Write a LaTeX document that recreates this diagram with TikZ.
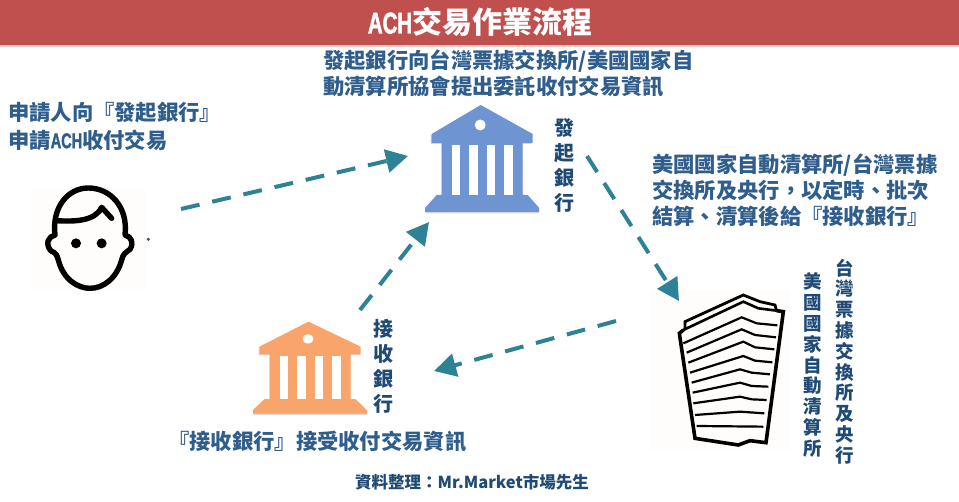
\documentclass[tikz,border=0pt]{standalone}
\usepackage{fontspec}
\usetikzlibrary{arrows.meta}
\setmainfont{Noto Sans CJK TC}
\newfontfamily\narrowlat[FakeStretch=0.68,FakeBold=1.5]{Liberation Sans}
\newcommand{\nl}[1]{{\narrowlat #1}}
\definecolor{barred}{HTML}{C0504D}
\definecolor{txtblue}{HTML}{2F5D8C}
\definecolor{txtdark}{HTML}{1F4A75}
\definecolor{flow}{HTML}{2E8296}
\definecolor{bankblue}{HTML}{6F94D2}
\definecolor{bankorange}{HTML}{F8A46A}
\newcommand{\bank}[1]{%
  \fill[black!35,opacity=.45] (-50,30) -- (0,0.5) -- (51,30) -- (51,39) -- (42,39) -- (42,91) -- (47,91) -- (58.5,104) -- (58.5,108.5) -- (-55,108.5) -- (-55,104) -- (-44,91) -- (-39,91) -- (-39,39) -- (-50,39) -- cycle;
  \fill[#1] (-49,29) -- (0,0) -- (52,29) -- (52,38) -- (42,38) -- (42,90) -- (47,90) -- (58.5,103) -- (58.5,107) -- (-55.7,107) -- (-55.7,103) -- (-44,90) -- (-39,90) -- (-39,38) -- (-49,38) -- cycle;
  \fill[white] (-.5,20) circle (5.5);
  \foreach \xx in {-29,-11.4,6,23.6}{\fill[white] (\xx,40) rectangle +(8.6,50);}
}
\tikzset{
  hd/.style={font=\bfseries\fontsize{21.3}{24}\selectfont,text=txtblue,anchor=west,inner sep=0pt},
  vt/.style={font=\bfseries\fontsize{20}{25}\selectfont,text=txtdark,align=center,inner sep=0pt},
  vs/.style={font=\bfseries\fontsize{18.5}{20.8}\selectfont,text=txtdark,align=center,inner sep=0pt},
  flowline/.style={flow,line width=4pt,dash pattern=on 19pt off 13pt,-{Triangle[length=22pt,width=23pt]}}
}
\begin{document}
\begin{tikzpicture}[x=1pt,y=-1pt]
\useasboundingbox (0,0) rectangle (959,502);
\fill[white] (0,0) rectangle (959,502);
\fill[barred!55,opacity=.5] (0,45) rectangle (959,47);
\fill[barred] (0,0) rectangle (959,45);
\node[font=\bfseries\fontsize{30}{32}\selectfont,text=white,inner sep=0pt] (title) at (480,22) {\nl{ACH}交易作業流程};

% person
\fill[orange!1.5] (30,187) rectangle (147,290);
\begin{scope}[shift={(0,90)},scale=1/3,line width=5.4pt,line cap=round,line join=round]
  \draw (165,435) .. controls (145,440) and (135,460) .. (152,482) .. controls (170,490) and (170,495) .. (175,510) .. controls (190,570) and (235,595) .. (270,595) .. controls (310,595) and (350,565) .. (365,510) .. controls (370,490) and (375,490) .. (390,478) .. controls (402,460) and (395,440) .. (375,435) .. controls (385,350) and (330,294) .. (265,294) .. controls (205,294) and (155,350) .. (165,435);
  \draw (168,392) .. controls (220,395) and (285,395) .. (305,352) -- (335,385);
  \fill (228,460) circle (15);
  \fill (305,460) circle (15);
  \fill[black!70] (445,448) circle (5);
\end{scope}

% banks
\begin{scope}[shift={(480.7,105)}]\bank{bankblue}\end{scope}
\begin{scope}[shift={(308.5,321.7)},yscale=.86]\bank{bankorange}\end{scope}

% building
\fill[orange!1.5] (650,290) rectangle (790,450);
\begin{scope}[shift={(640,250)},scale=1/3,line join=miter]
  \draw[line width=2.8pt] (135,240) -- (135,215) -- (310,135) -- (360,155) -- (405,165) -- (410,184);
  \draw[line width=3.6pt] (130,240) -- (118,250) -- (165,565) -- (295,585) -- (330,572) -- (378,578) -- (430,185) -- (410,182);
  \draw[line width=2.6pt] (130,240) -- (310,155) -- (355,175) -- (410,182);
  \draw[line width=2.2pt] (130,280) -- (305,202) -- (350,220) -- (412,226);
  \draw[line width=2.2pt] (140,308) -- (305,238) -- (345,255) -- (408,262);
  \draw[line width=2.2pt] (145,338) -- (310,275) -- (345,292) -- (403,298);
  \draw[line width=2.2pt] (150,368) -- (310,318) -- (345,332) -- (397,337);
  \draw[line width=2.2pt] (155,398) -- (300,358) -- (335,368) -- (390,373);
  \draw[line width=2.2pt] (158,428) -- (300,398) -- (335,408) -- (385,410);
  \draw[line width=2.2pt] (160,460) -- (300,440) -- (335,448) -- (380,450);
  \draw[line width=2.2pt] (165,495) -- (300,485) -- (373,490);
  \draw[line width=2.2pt] (170,528) -- (370,530);
\end{scope}

% labels
\node[hd] (tApply) at (8,113) {申請人向『發起銀行』};
\node[hd] (tApply2) at (8,140) {申請\nl{ACH}收付交易};
\node[hd] (tOrig) at (323,61) {發起銀行向台灣票據交換所/美國國家自};
\node[hd] (tOrig2) at (323,87) {動清算所協會提出委託收付交易資訊};
\node[hd] (tAch) at (652,165) {美國國家自動清算所/台灣票據};
\node[hd] (tAch2) at (652,190) {交換所及央行，以定時、批次};
\node[hd] (tAch3) at (652,216) {結算、清算後給『接收銀行』};
\node[hd] (tRecv) at (168,442) {『接收銀行』接受收付交易資訊};
\node[vt] (vOrig) at (564,165.5) {發\\起\\銀\\行};
\node[vt] (vRecv) at (383.5,366.5) {接\\收\\銀\\行};
\node[vs] (vTw) at (845,361.5) {台\\灣\\票\\據\\交\\換\\所\\及\\央\\行};
\node[vs] (vUs) at (813,365) {美\\國\\國\\家\\自\\動\\清\\算\\所};
\node[font=\bfseries\fontsize{16.5}{18}\selectfont,text=txtdark,inner sep=0pt] (src) at (472,482) {資料整理：Mr.Market市場先生};

% connectors
\coordinate (a1) at (181,209); \coordinate (a2) at (408,156);
\coordinate (b1) at (587,156); \coordinate (b2) at (679,301);
\coordinate (c1) at (616,321); \coordinate (c2) at (434,371);
\coordinate (d1) at (360,310); \coordinate (d2) at (429,222);
\draw[flowline] (a1) -- (a2);
\draw[flowline] (b1) -- (b2);
\draw[flowline] (c1) -- (c2);
\draw[flowline] (d1) -- (d2);
\end{tikzpicture}
\end{document}
